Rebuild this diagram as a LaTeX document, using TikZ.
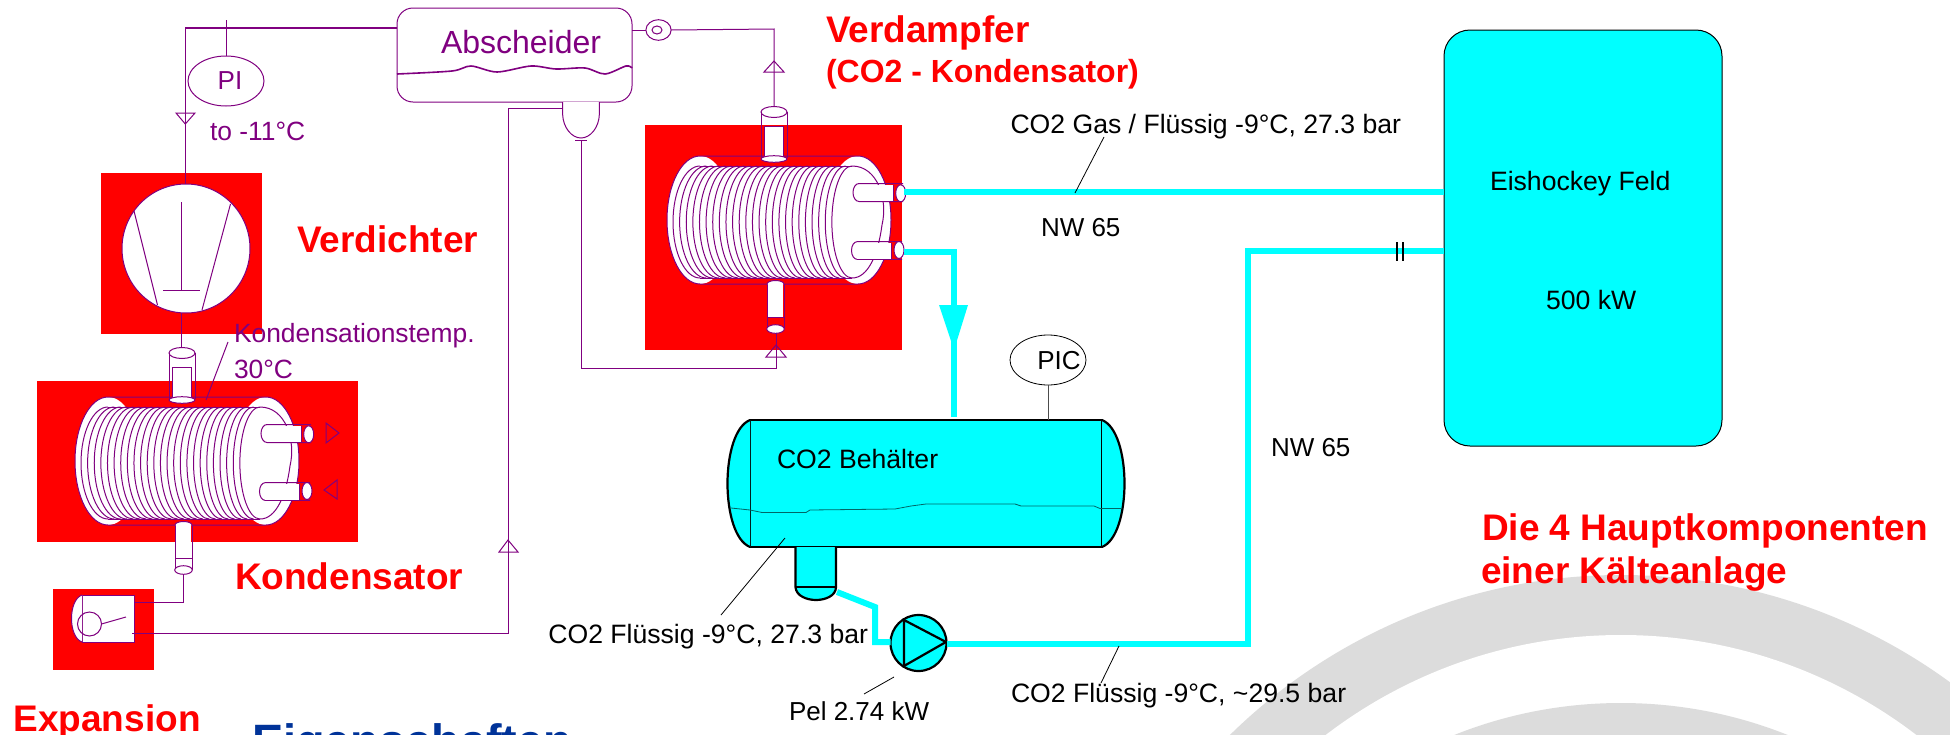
\documentclass[tikz,border=0pt]{standalone}
\usepackage{fontspec}
\setmainfont{Liberation Sans}
\usetikzlibrary{shapes.geometric,calc}
\definecolor{pur}{HTML}{800080}
\definecolor{cy}{HTML}{00FFFF}
\definecolor{wm}{HTML}{DCDCDC}
\definecolor{navy2}{HTML}{003399}
\definecolor{lvl}{HTML}{006666}
\tikzset{
  pl/.style={draw=pur,line width=.5pt},
  plw/.style={draw=pur,line width=.5pt,fill=white},
  pipe/.style={draw=cy,line width=3pt},
  redbox/.style={rectangle,fill=red,draw=none,inner sep=0,outer sep=0},
  blk/.style={draw=black,line width=1.1pt},
  lead/.style={draw=black,line width=.4pt},
  lab/.style={inner sep=0,outer sep=0,anchor=base west,text=black,font=\fontsize{13.3}{16}\selectfont},
  plab/.style={lab,text=pur,font=\fontsize{13.2}{16}\selectfont},
  rlab/.style={lab,text=red,font=\fontsize{18.5}{22}\selectfont\bfseries},
  shp/.style={inner sep=0,outer sep=0},
}
\newcommand{\hxunit}[2]{%
 \begin{scope}[shift={(#2)}]
  \fill[white] (700,220) ellipse[x radius=33,y radius=64];
  \fill[white] (858,220) ellipse[x radius=33,y radius=64];
  \fill[white] (700,166) rectangle (858,278);
  \draw[pl] (700,156) -- (858,156) arc[start angle=270,end angle=450,x radius=33,y radius=64] -- (700,284) arc[start angle=90,end angle=270,x radius=33,y radius=64];
  \foreach \i in {0,...,24}{
    \pgfmathsetmacro{\xx}{700+\i*6.33}
    \pgfmathsetmacro{\rr}{27-\i*.29}
    \draw[pl] (\xx,166) arc[start angle=270,end angle=90,x radius=\rr,y radius=56];
  }
  \draw[pl] (700,166) -- (852,166);
  \draw[pl] (700,278) -- (852,278);
  \draw[pl] (852,166) .. controls (878,166) and (888,200) .. (882,225) .. controls (878,255) and (868,278) .. (852,278);
  \draw[pl] (903,183.5) -- (859,183.5) arc[start angle=270,end angle=90,x radius=6,y radius=9] -- (903,201.5);
  \fill[white] (859,185) rectangle (893,201);
  \draw[pl] (893,185) -- (893,201);
  \draw[plw] (900.7,193.3) ellipse[x radius=5,y radius=8.5];
  \coordinate (#1outa) at (904,192);
  \draw[pl] (902,241.7) -- (857,241.7) arc[start angle=270,end angle=90,x radius=5.5,y radius=8.8] -- (902,259.3);
  \fill[white] (857,243) rectangle (891,259);
  \draw[pl] (891,243) -- (891,259);
  \draw[plw] (899,250) ellipse[x radius=5,y radius=8.5];
  \coordinate (#1outb) at (904,252);
  \fill[white] (764,126) rectangle (783,157);
  \draw[pl] (761,112) -- (761,158);
  \draw[pl] (787,112) -- (787,158);
  \draw[pl] (764,126) rectangle (783,157);
  \draw[pl] (774,112) ellipse[x radius=13,y radius=5.5];
  \draw[plw] (774,159) ellipse[x radius=13,y radius=3.3];
  \coordinate (#1top) at (774,106.5);
  \fill[white] (768,283) rectangle (783,317);
  \draw[pl] (767,284) -- (767,329);
  \draw[pl] (784,284) -- (784,329);
  \draw[pl] (767,317) -- (784,317);
  \draw[plw] (767,284) arc[start angle=180,end angle=360,x radius=8.5,y radius=3.5];
  \draw[plw] (775.5,329) ellipse[x radius=8.8,y radius=4.3];
  \coordinate (#1bot) at (775.5,333.3);
 \end{scope}}
\begin{document}
\begin{tikzpicture}[x=.5pt,y=-.5pt]
\useasboundingbox (0,0) rectangle (1950,734);
\clip (0,0) rectangle (1950,734);
\fill[white] (0,0) rectangle (1950,734);
% watermark rings
\fill[wm] (1621,1133) circle[radius=558];
\fill[white] (1621,1121) circle[radius=486];
\fill[wm] (1621,1152) circle[radius=449];
% red boxes
\node[redbox,minimum width=80.5pt,minimum height=80.5pt] (rcomp) at (181.5,253.5) {};
\node[redbox,minimum width=160.5pt,minimum height=80.5pt] (rkond) at (197.5,461.5) {};
\node[redbox,minimum width=128.5pt,minimum height=112.5pt] (rverd) at (773.5,237.5) {};
\node[redbox,minimum width=50.5pt,minimum height=40.5pt] (rexp) at (103.5,629.5) {};
% heat exchangers
\hxunit{v}{0,0}
\hxunit{k}{-592,241}
% compressor
\node[shp,ellipse,plw,minimum width=64pt,minimum height=64.5pt] (comp) at (186,248.5) {};
\coordinate (cua) at (134,211); \coordinate (cub) at (157.5,305);
\coordinate (cuc) at (230.5,204); \coordinate (cud) at (202,310);
\coordinate (cue) at (181.6,202); \coordinate (cuf) at (181.6,290);
\coordinate (cug) at (163,290); \coordinate (cuh) at (200,290);
\draw[pl] (cua)--(cub); \draw[pl] (cuc)--(cud); \draw[pl] (cue)--(cuf); \draw[pl] (cug)--(cuh);
% Abscheider
\node[shp,rectangle,rounded corners=8pt,plw,minimum width=117.5pt,minimum height=47pt] (absch) at (514.5,55) {};
\draw[draw=pur,line width=.8pt] plot[smooth,tension=.5] coordinates {(397,74) (452,71) (471,66) (497,72) (531,66) (556,69) (585,68) (605,74) (626,66) (632,68)};
\node[lab,text=pur,font=\fontsize{16}{19}\selectfont] (abstxt) at (441,53) {Abscheider};
\coordinate (pota) at (562.6,102); \coordinate (potb) at (599.4,102);
\draw[plw] (pota) -- (562.6,114) .. controls (563,128) and (572,138) .. (581,138) .. controls (590,138) and (599,128) .. (599.4,114) -- (potb);
\coordinate (potc) at (575,140); \coordinate (potd) at (587,140); \coordinate (pote) at (581,140);
\draw[pl] (potc)--(potd);
% PI
\node[shp,ellipse,plw,minimum width=38pt,minimum height=25pt] (pi) at (226,81) {};
\node[lab,anchor=base,text=pur,font=\fontsize{13}{16}\selectfont] (pitxt) at (230,89) {PI};
\coordinate (pistub) at (226,20);
\draw[pl] (pi.north) -- (pistub);
% suction line
\coordinate (suc) at (185.3,28);
\draw[draw=pur,line width=.8pt] (absch.west |- suc) -- (suc);
\draw[pl] (suc) -- (suc |- comp.north);
\coordinate (tra) at (176,113); \coordinate (trb) at (195,113); \coordinate (trc) at (185.3,124);
\draw[pl] (tra)--(trb)--(trc)--cycle;
% compressor to condenser
\coordinate (cbot) at (181.6,313); \coordinate (ktopin) at (181.6,347);
\draw[pl] (cbot) -- (ktopin);
% expansion
\node[shp,rectangle,plw,minimum width=26pt,minimum height=23.5pt] (exp) at (108,618.5) {};
\draw[plw] (exp.north west) .. controls (68,600) and (68,637) .. (exp.south west);
\node[shp,circle,pl,minimum width=12pt] (expc) at (89.5,624) {};
\coordinate (expl) at (126,617);
\draw[pl] (expc.east) -- (expl);
\coordinate (expin) at (134,602); \coordinate (expout) at (132,633);
\draw[pl] (kbot) -- (kbot |- expin) -- (expin);
% liquid line
\coordinate (liqr) at (508,633); \coordinate (liqt) at (508,108);
\draw[pl] (expout) -- (liqr) -- (liqt) -- (pota |- liqt);
\coordinate (trd) at (508,540); \coordinate (tre) at (499,552); \coordinate (trf) at (518,552);
\draw[pl] (trd)--(tre)--(trf)--cycle;
% condenser side triangles
\coordinate (t1a) at (326,423); \coordinate (t1b) at (326,443); \coordinate (t1c) at (339,433);
\draw[pl] (t1a)--(t1b)--(t1c)--cycle;
\coordinate (t2a) at (337,480); \coordinate (t2b) at (337,499); \coordinate (t2c) at (324,490);
\draw[pl] (t2a)--(t2b)--(t2c)--cycle;
% Abscheider to evaporator
\node[shp,ellipse,plw,minimum width=12.6pt,minimum height=10.3pt] (circ) at (658.5,30) {};
\node[shp,ellipse,pl,minimum width=5pt,minimum height=4pt] (circi) at (657,30) {};
\coordinate (vup) at (774,29);
\draw[pl] (absch.east |- circ) -- (circ.west);
\draw[pl] (circ.east) -- (vup) -- (vtop);
\coordinate (tga) at (774,61); \coordinate (tgb) at (764,72); \coordinate (tgc) at (784,72);
\draw[pl] (tga)--(tgb)--(tgc)--cycle;
% return from sump to evaporator bottom
\coordinate (retl) at (581,368); \coordinate (retr) at (776,368);
\draw[pl] (pote) -- (retl) -- (retr) -- (vbot -| retr);
\coordinate (tha) at (776,345); \coordinate (thb) at (766,357); \coordinate (thc) at (786,357);
\draw[pl] (tha)--(thb)--(thc)--cycle;
% Eishockey
\node[shp,rectangle,rounded corners=13pt,draw=black,line width=.5pt,fill=cy,minimum width=139pt,minimum height=208pt] (eis) at (1583,238) {};
% cyan pipes
\draw[pipe] (vouta) -- (vouta -| eis.west);
\coordinate (p1) at (954,252); \coordinate (p2) at (954,417);
\draw[pipe] (voutb) -- (p1) -- (p2);
\coordinate (aa) at (939,305); \coordinate (ab) at (968,305); \coordinate (ac) at (954,350);
\fill[cy] (aa)--(ab)--(ac)--cycle;
% tank
\node[shp,rectangle,blk,fill=cy,minimum width=176pt,minimum height=63.5pt] (tank) at (926,483.5) {};
\draw[blk,fill=cy] (tank.north west) .. controls (720,432) and (720,535) .. (tank.south west);
\draw[blk,fill=cy] (tank.north east) .. controls (1132,432) and (1132,535) .. (tank.south east);
\draw[draw=lvl,line width=.4pt] (731,508) -- (750,510) -- (762,512.5) -- (806,512.5) -- (810,510) -- (895,509) -- (911,506) -- (926,504) -- (1015,504) -- (1021,506) -- (1094,506) -- (1100,508.5) -- (1122,508.5);
% sump
\coordinate (sa) at (795.5,547); \coordinate (sb) at (836,547);
\coordinate (sc) at (795.5,587); \coordinate (sd) at (836,587);
\draw[blk,fill=cy] (sa) -- (sc) .. controls (796,596) and (807,600) .. (816,600) .. controls (825,600) and (836,596) .. (sd) -- (sb);
\draw[blk] (sc) -- (sd);
% pump
\coordinate (q1) at (837,592); \coordinate (q2) at (875,607); \coordinate (q3) at (875,642);
\node[shp,circle,blk,fill=cy,minimum width=28pt] (pump) at (918.5,643) {};
\draw[pipe] (q1) -- (q2) -- (q3) -- (q3 -| pump.west);
\coordinate (ta) at (904,620); \coordinate (tb) at (904,666); \coordinate (tc) at (946,642);
\draw[blk,line join=miter] (ta)--(tb)--(tc)--cycle;
% discharge pipe
\coordinate (d1) at (1248,644); \coordinate (d2) at (1248,251);
\draw[pipe] (pump.east |- d1) -- (d1) -- (d2) -- (d2 -| eis.west);
% II mark
\coordinate (ii1) at (1396.5,242); \coordinate (ii2) at (1396.5,261);
\coordinate (ii3) at (1402.5,242); \coordinate (ii4) at (1402.5,261);
\draw[draw=black,line width=1pt] (ii1)--(ii2);
\draw[draw=black,line width=1pt] (ii3)--(ii4);
% PIC
\node[shp,ellipse,draw=black,line width=.4pt,fill=white,minimum width=38pt,minimum height=25pt] (pic) at (1048,360) {};
\node[lab,anchor=base,font=\fontsize{13}{16}\selectfont] (pictxt) at (1059,369) {PIC};
\draw[draw=black!70,line width=.5pt] (pic.south) -- (pic.south |- tank.north);
% leaders
\coordinate (l1a) at (785,538); \coordinate (l1b) at (721,615);
\draw[lead] (l1a) -- (l1b);
\coordinate (l2a) at (894,677); \coordinate (l2b) at (864,694);
\draw[lead] (l2a) -- (l2b);
\coordinate (l3a) at (1119,646); \coordinate (l3b) at (1101,683);
\draw[lead] (l3a) -- (l3b);
\coordinate (l4a) at (1104,137); \coordinate (l4b) at (1075,193);
\draw[lead] (l4a) -- (l4b);
\coordinate (l5a) at (228,342); \coordinate (l5b) at (206,400);
\draw[pl] (l5a) -- (l5b);
% labels
\node[plab] (lbto) at (210,140) {to -11°C};
\node[plab] (lbk1) at (234,342.5) {Kondensationstemp.};
\node[plab] (lbk2) at (234,378) {30°C};
\node[rlab] (lbv) at (297,252) {Verdichter};
\node[rlab] (lbk) at (235,589) {Kondensator};
\node[rlab] (lbe) at (13.5,731) {Expansion};
\node[lab,text=navy2,font=\fontsize{23.4}{28}\selectfont\bfseries] (lbeig) at (252,757) {Eigenschaften};
\node[rlab] (lbvd) at (826,42) {Verdampfer};
\node[rlab,font=\fontsize{16}{19}\selectfont\bfseries] (lbco) at (826,82) {(CO2 - Kondensator)};
\node[lab] (lbg) at (1010.5,133) {CO2 Gas / Flüssig -9°C, 27.3 bar};
\node[lab,font=\fontsize{13}{16}\selectfont] (lbn1) at (1041,236.5) {NW 65};
\node[lab,font=\fontsize{13}{16}\selectfont] (lbn2) at (1271,456.5) {NW 65};
\node[lab] (lbeh) at (1490,190) {Eishockey Feld};
\node[lab] (lbkw) at (1546,309) {500 kW};
\node[lab] (lbb) at (777,468) {CO2 Behälter};
\node[lab,anchor=base east] (lbf) at (868,643) {CO2 Flüssig -9°C, 27.3 bar};
\node[lab,font=\fontsize{13}{16}\selectfont] (lbp) at (789,720) {Pel 2.74 kW};
\node[lab] (lbf2) at (1011,702) {CO2 Flüssig -9°C, \textasciitilde 29.5 bar};
\node[rlab] (lbd) at (1482,540) {Die 4 Hauptkomponenten};
\node[rlab] (lbe2) at (1481,583) {einer Kälteanlage};
\end{tikzpicture}
\end{document}
